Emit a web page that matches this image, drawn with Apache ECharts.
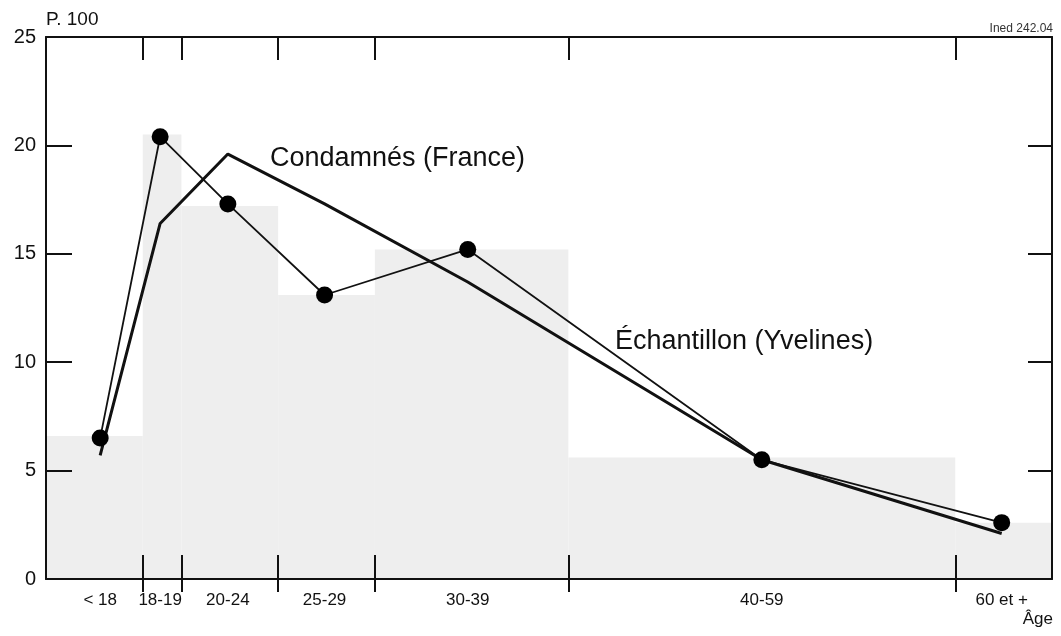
<!DOCTYPE html>
<html>
<head>
<meta charset="utf-8">
<script src="https://cdn.jsdelivr.net/npm/echarts@6/dist/echarts.min.js"></script>
<style>
html,body{margin:0;padding:0;background:#fff;}
#chart{width:1061px;height:636px;}
</style>
</head>
<body>
<div id="chart"></div>
<script>
// Age groups (bounds of the histogram bars)
const groupLabels = ['< 18', '18-19', '20-24', '25-29', '30-39', '40-59', '60 et +'];
const groupStart = [13, 18, 20, 25, 30, 40, 60];
const groupEnd = [18, 20, 25, 30, 40, 60, 65];
// x positions used for the points of both lines and for the group labels
const groupMid = [15.8, 18.9, 22.4, 27.4, 34.8, 50, 62.4];
// boundary ticks on the age axis
const ageTicks = [18, 20, 25, 30, 40, 60];
// Échantillon (Yvelines) - histogram and points, in %
const echantillonBars = [6.6, 20.5, 17.2, 13.1, 15.2, 5.6, 2.6];
const echantillon = [6.5, 20.4, 17.3, 13.1, 15.2, 5.5, 2.6];
// Condamnés (France), in %
const condamnes = [5.7, 16.4, 19.6, 17.3, 13.7, 5.5, 2.1];

const chart = echarts.init(document.getElementById('chart'));
const black = '#111';
const font = '"Liberation Sans", Arial, sans-serif';

const barData = groupStart.map((s, i) => [s, groupEnd[i], echantillonBars[i]]);
const echData = groupMid.map((x, i) => [x, echantillon[i]]);
const conData = groupMid.map((x, i) => [x, condamnes[i]]);

const commonX = { type: 'value', min: 13, max: 65, splitLine: { show: false }, z: 10 };

chart.setOption({
  animation: false,
  backgroundColor: '#fff',
  grid: { left: 46, right: 9, top: 37, bottom: 57, containLabel: false },
  xAxis: [
    Object.assign({}, commonX, {
      position: 'bottom',
      axisLine: { show: true, onZero: false, lineStyle: { color: black, width: 2 } },
      axisTick: { show: true, inside: true, length: 24, customValues: ageTicks, lineStyle: { color: black, width: 2 } },
      axisLabel: {
        show: true, customValues: groupMid, margin: 13,
        color: '#111', fontFamily: font, fontSize: 17,
        formatter: v => { const i = groupMid.indexOf(v); return i >= 0 ? groupLabels[i] : ''; }
      }
    }),
    Object.assign({}, commonX, {
      position: 'bottom',
      axisLine: { show: false },
      axisTick: { show: true, inside: false, length: 13, customValues: ageTicks, lineStyle: { color: black, width: 2 } },
      axisLabel: { show: false }
    }),
    Object.assign({}, commonX, {
      position: 'top',
      axisLine: { show: true, onZero: false, lineStyle: { color: black, width: 2 } },
      axisTick: { show: true, inside: true, length: 23, customValues: ageTicks, lineStyle: { color: black, width: 2 } },
      axisLabel: { show: false }
    })
  ],
  yAxis: [
    {
      type: 'value', min: 0, max: 25, interval: 5, position: 'left', z: 10,
      splitLine: { show: false },
      axisLine: { show: true, onZero: false, lineStyle: { color: black, width: 2 } },
      axisTick: { show: true, inside: true, length: 26, lineStyle: { color: black, width: 2 } },
      axisLabel: { margin: 10, color: '#111', fontFamily: font, fontSize: 20 }
    },
    {
      type: 'value', min: 0, max: 25, interval: 5, position: 'right', z: 10,
      splitLine: { show: false },
      axisLine: { show: true, onZero: false, lineStyle: { color: black, width: 2 } },
      axisTick: { show: true, inside: true, length: 24, lineStyle: { color: black, width: 2 } },
      axisLabel: { show: false }
    }
  ],
  series: [
    {
      name: 'Échantillon (histogramme)', type: 'custom', xAxisIndex: 0, yAxisIndex: 0,
      z: 1, clip: true,
      encode: { x: [0, 1], y: 2 },
      data: barData,
      renderItem: function (params, api) {
        const p0 = api.coord([api.value(0), api.value(2)]);
        const p1 = api.coord([api.value(1), 0]);
        return {
          type: 'rect',
          shape: { x: p0[0], y: p0[1], width: p1[0] - p0[0], height: p1[1] - p0[1] },
          style: { fill: '#eeeeee' }
        };
      }
    },
    {
      name: 'Condamnés (France)', type: 'line', xAxisIndex: 0, yAxisIndex: 0, z: 3,
      data: conData, showSymbol: false, symbol: 'none',
      lineStyle: { color: black, width: 3 }
    },
    {
      name: 'Échantillon (Yvelines)', type: 'line', xAxisIndex: 0, yAxisIndex: 0, z: 4,
      data: echData, symbol: 'circle', symbolSize: 17,
      itemStyle: { color: '#000' },
      lineStyle: { color: black, width: 1.8 }
    }
  ],
  graphic: [
    { type: 'text', left: 46, top: 10, style: { text: 'P. 100', fontFamily: font, fontSize: 19, fill: '#111' } },
    { type: 'text', right: 8, top: 23, style: { text: 'Ined 242.04', fontFamily: font, fontSize: 12, fill: '#333' } },
    { type: 'text', right: 8, top: 611, style: { text: 'Âge', fontFamily: font, fontSize: 17, fill: '#111' } },
    { type: 'text', x: 270, y: 159, style: { text: 'Condamnés (France)', fontFamily: font, fontSize: 27, fill: '#111', verticalAlign: 'middle' } },
    { type: 'text', x: 615, y: 342, style: { text: 'Échantillon (Yvelines)', fontFamily: font, fontSize: 27, fill: '#111', verticalAlign: 'middle' } }
  ]
});
</script>
</body>
</html>
